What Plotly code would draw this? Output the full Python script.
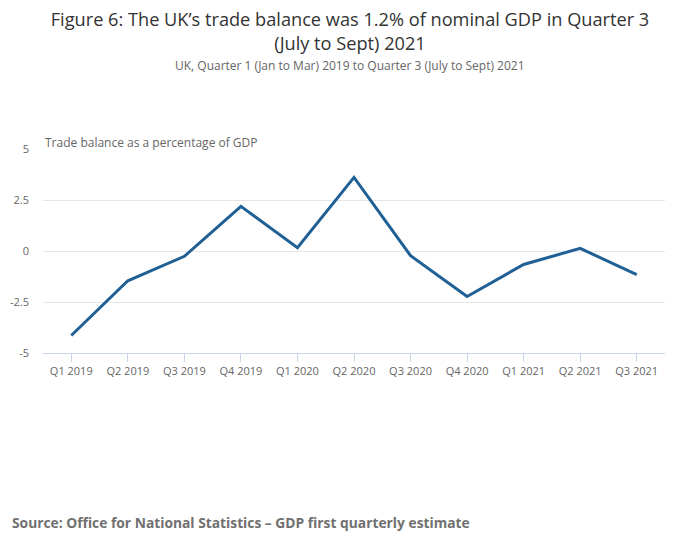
import plotly.graph_objects as go

quarters = ["Q1 2019", "Q2 2019", "Q3 2019", "Q4 2019", "Q1 2020", "Q2 2020",
            "Q3 2020", "Q4 2020", "Q1 2021", "Q2 2021", "Q3 2021"]
trade_balance = [-4.14, -1.46, -0.26, 2.19, 0.16, 3.61, -0.23, -2.23, -0.66, 0.13, -1.16]
y_ticks = [-5, -2.5, 0, 2.5, 5]
y_labels = ["-5", "-2.5", "0", "2.5", "5"]

# page body adds an 8px offset, so margins are shifted accordingly
L, T, R, B = 35, 141, 43, 204
PW, PH = 700 - L - R, 549 - T - B

fig = go.Figure()
fig.add_trace(go.Scatter(x=quarters, y=trade_balance, mode="lines",
                         line=dict(color="#206095", width=3),
                         name="Trade balance"))

fig.update_layout(
    width=700, height=549,
    paper_bgcolor="white", plot_bgcolor="white",
    font=dict(family="Open Sans", color="#666666", size=11),
    margin=dict(l=L, r=R, t=T, b=B),
    showlegend=False,
    title=dict(
        text="Figure 6: The UK’s trade balance was 1.2% of nominal GDP in Quarter 3<br>(July to Sept) 2021",
        x=342 / 700, xanchor="center", y=1 - 18 / 549, yanchor="middle",
        font=dict(size=18.2, color="#333333"),
    ),
)
fig.update_xaxes(
    type="category", range=[-0.5, 10.5], automargin=False,
    showline=True, linecolor="#ccd6eb", linewidth=1,
    ticks="outside", tickcolor="#ccd6eb", ticklen=8,
    showgrid=False, tickfont=dict(size=11, color="#666666"),
)
fig.update_yaxes(
    range=[-5, 5], tickvals=y_ticks, ticktext=y_labels, automargin=False,
    showgrid=True, gridcolor="#e6e6e6", zeroline=False,
    tickfont=dict(size=11, color="#666666"), ticklabelstandoff=13,
)

fig.add_annotation(text="UK, Quarter 1 (Jan to Mar) 2019 to Quarter 3 (July to Sept) 2021",
                   xref="paper", yref="paper", x=(342 - L) / PW, y=(549 - B - 58) / PH,
                   xanchor="center", yanchor="middle", showarrow=False,
                   font=dict(size=12, color="#666666"))
fig.add_annotation(text="Trade balance as a percentage of GDP",
                   xref="paper", yref="paper", x=0.0, y=1.0, yshift=-4,
                   xanchor="left", yanchor="bottom", showarrow=False,
                   font=dict(size=12, color="#666666"))
fig.add_annotation(text="<b>Source: Office for National Statistics – GDP first quarterly estimate</b>",
                   xref="paper", yref="paper", x=(2 - L) / PW, y=(549 - B - 514) / PH,
                   xanchor="left", yanchor="middle", showarrow=False,
                   font=dict(size=13.8, color="#707070"))

fig.write_html("out.html")
